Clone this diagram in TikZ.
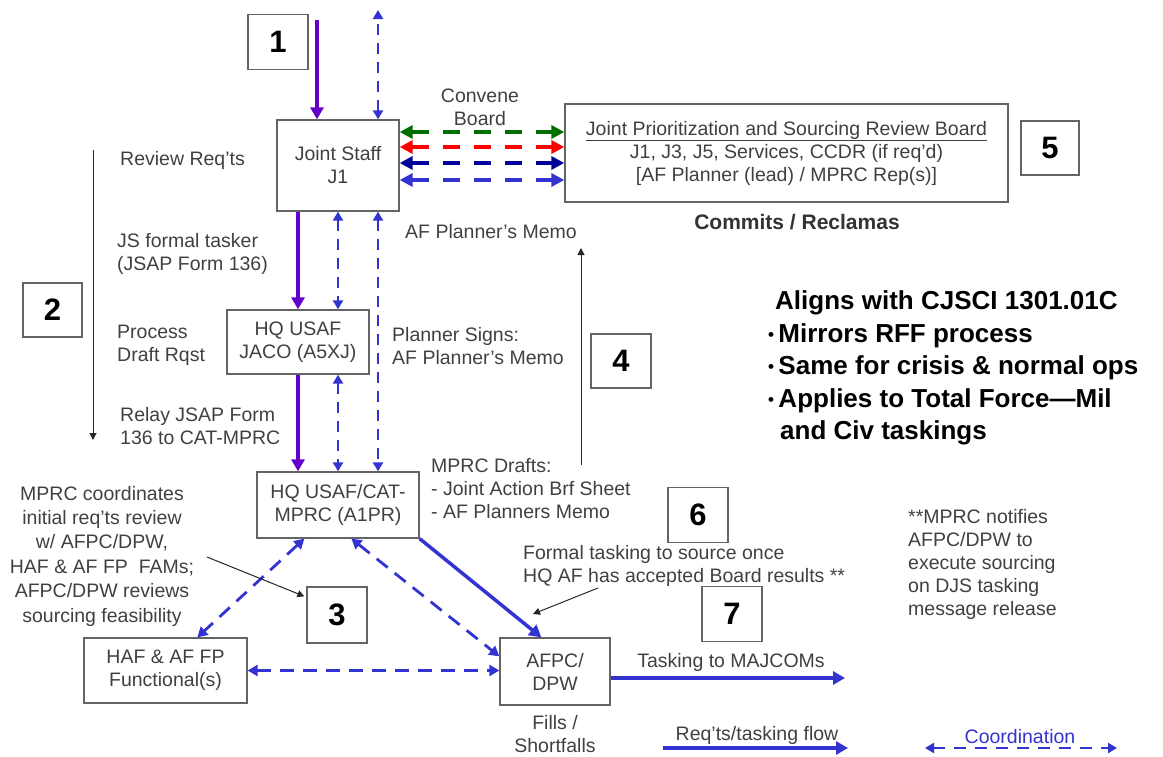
\documentclass[tikz,border=0pt]{standalone}
\usepackage{fontspec}
\setmainfont{Liberation Sans}
\usetikzlibrary{arrows.meta,calc}
\definecolor{purp}{RGB}{102,0,204}
\definecolor{bl}{RGB}{51,51,210}
\definecolor{navy}{RGB}{0,0,150}
\definecolor{dgreen}{RGB}{0,110,0}
\definecolor{rd}{RGB}{255,0,0}
\definecolor{txt}{RGB}{64,64,64}
\definecolor{boxgray}{RGB}{100,100,100}
\newcommand{\bul}{{\fontsize{17}{17}\selectfont\raisebox{1.5pt}{•}}\,}
\tikzset{
  every node/.style={inner sep=0pt, text=txt, font=\fontsize{19.5}{23}\selectfont},
  box/.style={draw=boxgray, line width=1.3pt, fill=white, align=center},
  numbox/.style={draw=boxgray, line width=1.3pt, fill=white, minimum width=60pt, minimum height=55pt, text=black, font=\fontsize{31}{36}\selectfont\bfseries},
  lbl/.style={align=left},
  bold/.style={anchor=base west, text=black, font=\fontsize{26}{31}\selectfont\bfseries},
  purpflow/.style={draw=purp, line width=3.5pt, -{Triangle[length=12pt,width=13pt]}},
  blueflow/.style={draw=bl, line width=3.5pt, -{Triangle[length=12pt,width=13pt]}},
  vdash/.style={draw=bl, line width=2.6pt, dash pattern=on 11pt off 8pt, {Triangle[length=9pt,width=10pt]}-{Triangle[length=9pt,width=10pt]}},
  hdash/.style={line width=3.5pt, dash pattern=on 17pt off 14pt, {Triangle[length=13pt,width=13pt]}-{Triangle[length=13pt,width=13pt]}},
  ddash/.style={draw=bl, line width=2.8pt, dash pattern=on 14pt off 9pt, {Triangle[length=10pt,width=11pt]}-{Triangle[length=10pt,width=11pt]}},
  thinarrow/.style={draw=black!85, line width=1pt, -{Triangle[length=7pt,width=7pt]}},
}
\begin{document}
\begin{tikzpicture}[x=1pt,y=-1pt]
\useasboundingbox (0,0) rectangle (1163,756);

% main boxes
\node[box, minimum width=122pt, minimum height=91pt] (js) at (338,165.5) {Joint Staff\\J1};
\node[box, minimum width=142pt, minimum height=64pt] (jaco) at (298,342) {HQ USAF\\JACO (A5XJ)};
\node[box, minimum width=162pt, minimum height=66pt] (cat) at (338,505) {HQ USAF/CAT-\\MPRC (A1PR)};
\node[box, minimum width=443pt, minimum height=98pt] (jpsrb) at (786.5,153)
  {\underline{Joint Prioritization and Sourcing Review Board}\\J1, J3, J5, Services, CCDR (if req'd)\\{}[AF Planner (lead) / MPRC Rep(s)]};
\node[box, minimum width=163pt, minimum height=65pt] (haf) at (165.5,670.5) {HAF \& AF FP\\Functional(s)};
\node[box, minimum width=110pt, minimum height=67pt] (afpc) at (555,671.5) {AFPC/\\DPW};

% number boxes
\node[numbox] (n1) at (278,42) {1};
\node[numbox, minimum width=59pt, minimum height=54pt] (n2) at (52.5,310) {2};
\node[numbox, minimum height=56pt] (n3) at (337,615) {3};
\node[numbox, minimum height=54pt] (n4) at (621,361) {4};
\node[numbox, minimum width=58pt, minimum height=54pt] (n5) at (1050,148) {5};
\node[numbox] (n6) at (698,515) {6};
\node[numbox] (n7) at (732,614) {7};

% labels
\node[lbl, anchor=west] (review) at (120,160) {Review Req'ts};
\node[lbl, anchor=west] (jstask) at (117,254) {JS formal tasker\\(JSAP Form 136)};
\node[lbl, anchor=west] (process) at (117,345) {Process\\Draft Rqst};
\node[lbl, anchor=west] (relay) at (120,426) {Relay JSAP Form\\136 to CAT-MPRC};
\node[align=center] (convene) at (480,107) {Convene\\Board};
\node (afmemo) at (491,232) {AF Planner's Memo};
\node[lbl, anchor=west] (signs) at (392,346) {Planner Signs:\\AF Planner's Memo};
\node[lbl, anchor=west] (drafts) at (431,489) {MPRC Drafts:\\- Joint Action Brf Sheet\\- AF Planners Memo};
\node[font=\fontsize{21}{25}\selectfont\bfseries, text=black!80] (commits) at (797,222) {Commits / Reclamas};
\node[bold] (aligns) at (775,309) {Aligns with CJSCI 1301.01C};
\node[bold] (b1) at (768,342) {\bul Mirrors RFF process};
\node[bold] (b2) at (768,374) {\bul Same for crisis \& normal ops};
\node[bold] (b3) at (768,407) {\bul Applies to Total Force—Mil};
\node[bold] (b4) at (780,439) {and Civ taskings};
\node[align=center, font=\fontsize{19.5}{24.4}\selectfont] (mprcnote) at (102,556) {MPRC coordinates\\initial req'ts review\\w/ AFPC/DPW,\\HAF \& AF FP\ \ FAMs;\\AFPC/DPW reviews\\sourcing feasibility};
\node[lbl, anchor=west] (formal) at (523,566) {Formal tasking to source once\\HQ AF has accepted Board results **};
\node[lbl, anchor=west] (notify) at (908,564) {**MPRC notifies\\AFPC/DPW to\\execute sourcing\\on DJS tasking\\message release};
\node (majtxt) at (731,662) {Tasking to MAJCOMs};
\node[align=center] (fills) at (555,734) {Fills /\\Shortfalls};
\node (flowtxt) at (757,735) {Req'ts/tasking flow};
\node[text=bl] (coordtxt) at (1020,737) {Coordination};

% helper coordinates
\coordinate (top1) at (317,20);
\coordinate (top2) at (378,10);
\coordinate (c378) at (378,0);
\coordinate (r1) at (0,132);
\coordinate (r2) at (0,147);
\coordinate (r3) at (0,163);
\coordinate (r4) at (0,180);
\coordinate (a2s) at (93,150);
\coordinate (a2e) at (93,440);
\coordinate (a4s) at (581,465);
\coordinate (a4e) at (581,248);
\coordinate (a3s) at (207,557);
\coordinate (a6s) at (598,588);
\coordinate (a6e) at (533,614);
\coordinate (majend) at (845,678);
\coordinate (lg1) at (663,748);
\coordinate (lg2) at (848,748);
\coordinate (lc1) at (925,748);
\coordinate (lc2) at (1117,748);

% top connectors
\draw[purpflow] (top1) -- (js.north -| top1);
\draw[vdash] (js.north -| top2) -- (top2);

% board arrows
\draw[hdash, dgreen] (js.east |- r1) -- (jpsrb.west |- r1);
\draw[hdash, rd] (js.east |- r2) -- (jpsrb.west |- r2);
\draw[hdash, navy] (js.east |- r3) -- (jpsrb.west |- r3);
\draw[hdash, bl] (js.east |- r4) -- (jpsrb.west |- r4);

% vertical flow
\draw[purpflow] (js.south -| jaco.north) -- (jaco.north);
\draw[purpflow] (jaco.south) -- (cat.north -| jaco.south);
\draw[vdash] (js.south) -- (jaco.north -| js.south);
\draw[vdash] (jaco.south -| cat.north) -- (cat.north);
\draw[vdash] (js.south -| c378) -- (cat.north -| c378);

% lower triangle
\draw[blueflow] (cat.south east) -- ($(afpc.north west)+(42,0)$);
\draw[ddash] ($(cat.south west)+(95,0)$) -- ($(afpc.north west)+(0,19)$);
\draw[ddash] ($(cat.south west)+(48,0)$) -- ($(haf.north west)+(114,0)$);
\draw[ddash] (haf.east) -- (afpc.west |- haf.east);
\draw[blueflow] (afpc.east |- majend) -- (majend);

% thin arrows
\draw[thinarrow] (a2s) -- (a2e);
\draw[thinarrow] (a4s) -- (a4e);
\draw[thinarrow] (a3s) -- ($(n3.north west)+(-2,10)$);
\draw[thinarrow] (a6s) -- (a6e);

% legend
\draw[blueflow] (lg1) -- (lg2);
\draw[draw=bl, line width=2.8pt, dash pattern=on 12pt off 9pt, {Triangle[length=9pt,width=10pt]}-{Triangle[length=9pt,width=10pt]}] (lc1) -- (lc2);
\end{tikzpicture}
\end{document}
